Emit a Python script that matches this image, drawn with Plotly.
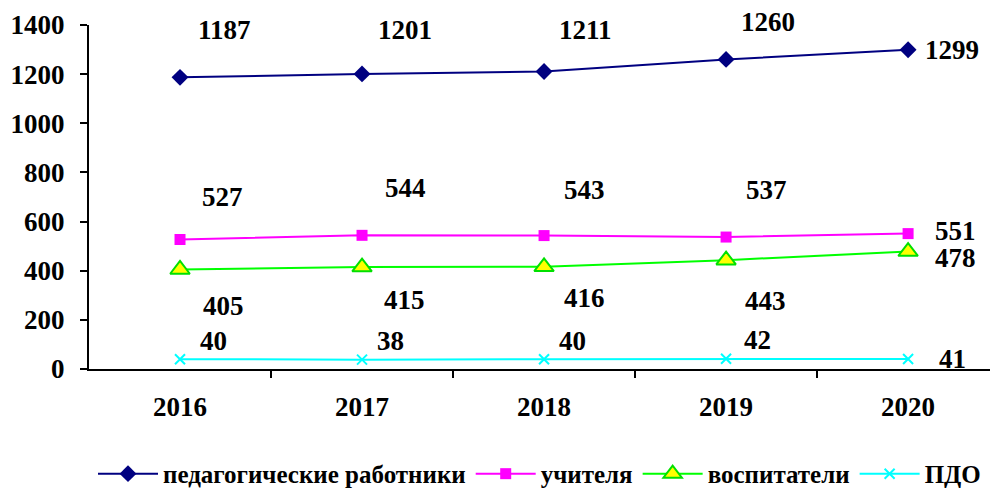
import plotly.graph_objects as go

years = ["2016", "2017", "2018", "2019", "2020"]
series_names = ["педагогические работники", "учителя", "воспитатели", "ПДО"]
ped = [1187, 1201, 1211, 1260, 1299]
uch = [527, 544, 543, 537, 551]
vos = [405, 415, 416, 443, 478]
pdo = [40, 38, 40, 42, 41]
y_ticks = [0, 200, 400, 600, 800, 1000, 1200, 1400]

# label offsets in pixels (style/position only)
label_dx = [[44, 43, 41, 42, 44], [42, 43, 40, 40, 47], [43, 42, 40, 39, 47], [33, 28, 28, 31, 44]]
label_dy = [[47, 44, 41, 37, 0], [43, 47, 46, 47, 3], [-37, -33, -31, -41, -6], [18, 19, 18, 19, 0]]

FONT = "Liberation Serif"
FS = 27
styles = [
    dict(line=dict(color="#000080", width=2), marker=dict(symbol="diamond", size=13, color="#000080")),
    dict(line=dict(color="#FF00FF", width=2), marker=dict(symbol="square", size=11, color="#FF00FF")),
    dict(line=dict(color="#00FF00", width=2), marker=dict(symbol="triangle-up", size=17, color="#FFFF00", line=dict(color="#00E000", width=2))),
    dict(line=dict(color="#00FFFF", width=2), marker=dict(symbol="x-thin", size=10, line=dict(color="#00FFFF", width=2), color="#00FFFF")),
]

fig = go.Figure()
all_vals = [ped, uch, vos, pdo]
for name, vals, st in zip(series_names, all_vals, styles):
    fig.add_trace(go.Scatter(x=list(range(len(years))), y=vals, mode="lines+markers", name=name, **st))

for si, vals in enumerate(all_vals):
    for i, v in enumerate(vals):
        fig.add_annotation(x=i, y=v, xref="x", yref="y", text=f"<b>{v}</b>", showarrow=False,
                           xshift=label_dx[si][i], yshift=label_dy[si][i],
                           font=dict(family=FONT, size=FS, color="black"))

fig.update_layout(
    template="none",
    width=990, height=488,
    margin=dict(l=89, r=0, t=25, b=119, autoexpand=False),
    paper_bgcolor="white", plot_bgcolor="white",
    font=dict(family=FONT, size=FS, color="black"),
    showlegend=True,
    legend=dict(orientation="h", x=0.5, xanchor="center", y=-0.305, yanchor="middle",
                font=dict(family=FONT, size=25, color="black", weight="bold"),
                itemwidth=60, tracegroupgap=0, bgcolor="rgba(0,0,0,0)"),
)
fig.update_xaxes(tickmode="array", tickvals=list(range(len(years))), ticktext=years,
                 range=[-0.5, 4.45], showline=True, linecolor="black", linewidth=2,
                 ticks="", showgrid=False, zeroline=False, automargin=False, ticklabelstandoff=13,
                 tickfont=dict(family=FONT, size=FS, weight="bold"))
# boundary tick marks between categories
fig.update_layout(xaxis2=dict(overlaying="x", anchor="y", range=[-0.5, 4.45], tickmode="array",
                              tickvals=[i + 0.5 for i in range(len(years) - 1)], showticklabels=False,
                              ticks="outside", ticklen=8, tickwidth=2, tickcolor="black",
                              showline=False, showgrid=False, zeroline=False, automargin=False,
                              side="bottom"))
fig.update_yaxes(range=[0, 1400], tickvals=y_ticks, showline=True, linecolor="black", linewidth=2,
                 ticks="outside", ticklen=7, tickwidth=2, tickcolor="black", showgrid=False,
                 zeroline=False, automargin=False, ticklabelstandoff=10,
                 tickfont=dict(family=FONT, size=FS, weight="bold"))
fig.add_trace(go.Scatter(x=[0], y=[0], xaxis="x2", mode="markers", marker=dict(opacity=0),
                         showlegend=False, hoverinfo="skip"))

fig.write_html("out.html", config={"displayModeBar": False},
               post_script="document.body.style.margin='0';document.body.style.overflow='hidden';")
